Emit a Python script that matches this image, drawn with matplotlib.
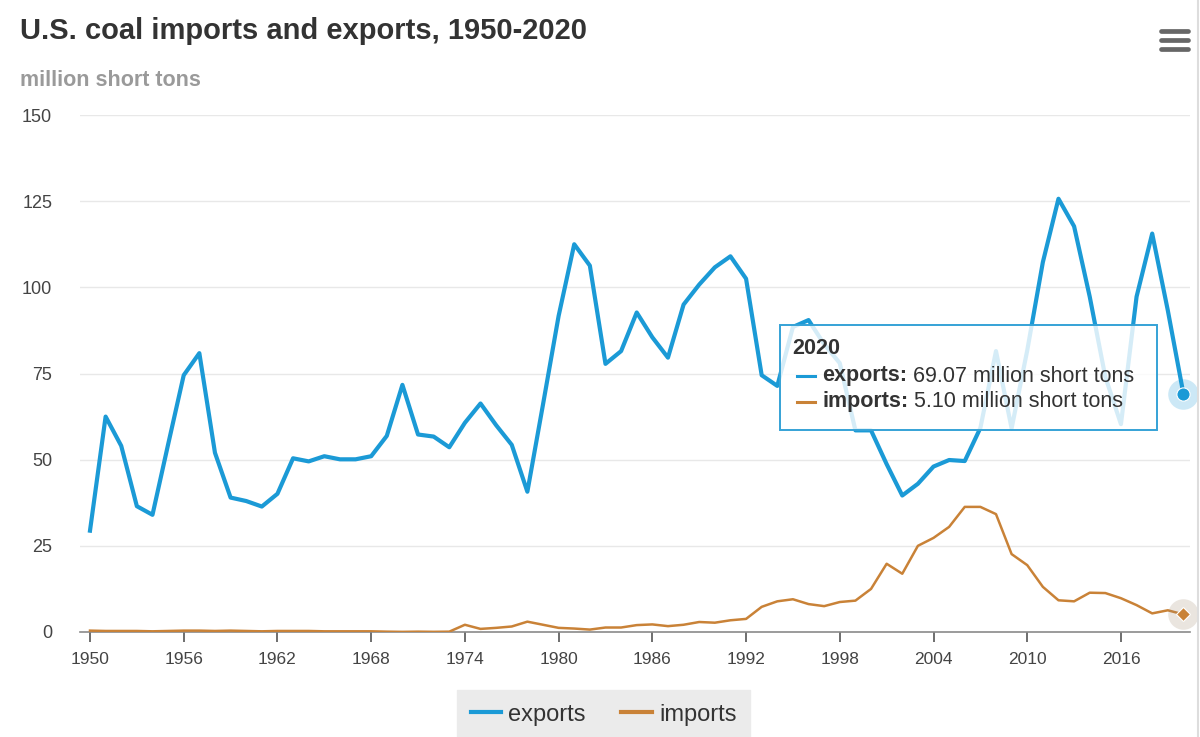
import matplotlib
matplotlib.use("Agg")
import matplotlib.pyplot as plt
from matplotlib.lines import Line2D
from matplotlib.patches import Rectangle

years = list(range(1950, 2021))
exports = [29.4, 62.5, 54.0, 36.5, 34.0, 54.4, 74.5, 80.9, 52.0, 39.0,
           38.0, 36.4, 40.1, 50.4, 49.5, 51.0, 50.1, 50.1, 51.0, 56.9,
           71.7, 57.3, 56.7, 53.6, 60.7, 66.3, 60.0, 54.3, 40.7, 66.0,
           91.7, 112.5, 106.3, 77.8, 81.5, 92.7, 85.5, 79.6, 95.0, 100.8,
           105.8, 109.0, 102.5, 74.5, 71.4, 88.5, 90.5, 83.5, 78.0, 58.5,
           58.5, 48.7, 39.6, 43.0, 48.0, 49.9, 49.6, 59.2, 81.5, 59.1,
           81.7, 107.3, 125.7, 117.7, 97.3, 74.0, 60.3, 97.3, 115.6, 93.3,
           69.07]
imports = [0.4, 0.3, 0.3, 0.3, 0.2, 0.3, 0.4, 0.4, 0.3, 0.4,
           0.3, 0.2, 0.3, 0.3, 0.3, 0.2, 0.2, 0.2, 0.2, 0.1,
           0.04, 0.1, 0.05, 0.1, 2.1, 0.9, 1.2, 1.6, 3.0, 2.1,
           1.2, 1.0, 0.7, 1.3, 1.3, 2.0, 2.2, 1.7, 2.1, 2.9,
           2.7, 3.4, 3.8, 7.3, 8.9, 9.5, 8.1, 7.5, 8.7, 9.1,
           12.5, 19.8, 16.9, 25.0, 27.3, 30.5, 36.3, 36.3, 34.2, 22.6,
           19.4, 13.1, 9.2, 8.9, 11.4, 11.3, 9.8, 7.8, 5.4, 6.3,
           5.10]
xticks = list(range(1950, 2020, 6))
yticks = [0, 25, 50, 75, 100, 125, 150]

BLUE = "#1b9ad6"
BROWN = "#c98237"
W, H = 1200, 737

plt.rcParams['font.family'] = ['Liberation Sans', 'DejaVu Sans']

fig = plt.figure(figsize=(12, 7.37), dpi=100)
fig.patch.set_facecolor("white")

def fx(px):
    return px / W

def fy(py):
    return 1 - py / H

ax = fig.add_axes([fx(80), fy(632), fx(1190) - fx(80), fy(115) - fy(632)])
ax.set_xlim(1949.36, 2020.42)
ax.set_ylim(0, 150)

for s in ["top", "right", "left"]:
    ax.spines[s].set_visible(False)
ax.spines["bottom"].set_color("#8a8a8a")
ax.spines["bottom"].set_linewidth(1.2)

ax.set_yticks(yticks)
ax.set_yticklabels([str(v) for v in yticks])
ax.tick_params(axis="y", length=0, pad=20, labelsize=13, labelcolor="#444444")
ax.set_xticks(xticks)
ax.set_xticklabels([str(v) for v in xticks])
ax.tick_params(axis="x", length=7.5, width=1.2, color="#555555", pad=7,
               labelsize=12.5, labelcolor="#444444", direction="out")

for v in yticks[1:]:
    ax.axhline(v, color="#e8e8e8", lw=1.0, zorder=0)

ax.plot(years, imports, color=BROWN, lw=1.8, zorder=3, solid_joinstyle="round")
ax.plot(years, exports, color=BLUE, lw=3.0, zorder=4, solid_joinstyle="round")

# hover halos and markers on the last point
ax.plot(years[-1], exports[-1], "o", ms=22, color=BLUE, alpha=0.22, mec="none", zorder=5, clip_on=False)
ax.plot(years[-1], exports[-1], "o", ms=9.5, color=BLUE, mec="white", mew=0.8, zorder=6, clip_on=False)
ax.plot(years[-1], imports[-1], "o", ms=22, color="#a08a70", alpha=0.22, mec="none", zorder=5, clip_on=False)
ax.plot(years[-1], imports[-1], "D", ms=7, color=BROWN, mec="white", mew=0.8, zorder=6, clip_on=False)

# title and subtitle
fig.text(fx(20), fy(31), "U.S. coal imports and exports, 1950-2020", fontsize=21,
         fontweight="bold", color="#333333", va="center", ha="left")
fig.text(fx(20), fy(80), "million short tons", fontsize=15.5, fontweight="bold",
         color="#9a9a9a", va="center", ha="left")

# menu icon
for yy in [30.5, 39.5, 48.5]:
    fig.add_artist(Line2D([fx(1161), fx(1188)], [fy(yy), fy(yy)], color="#666666",
                          lw=3.4, solid_capstyle="round"))

# right border
fig.add_artist(Line2D([fx(1197.5), fx(1197.5)], [0, 1], color="#dddddd", lw=1.5))

# legend
leg_handles = [Line2D([0], [0], color=BLUE, lw=3), Line2D([0], [0], color=BROWN, lw=3)]
leg = fig.legend(leg_handles, ["exports", "imports"], loc="upper left",
                 bbox_to_anchor=(fx(457), fy(690)), ncol=2, fontsize=17,
                 frameon=True, fancybox=False, facecolor="#ebebeb", edgecolor="#ebebeb",
                 framealpha=1, handlelength=1.3, handletextpad=0.3,
                 columnspacing=1.5, borderpad=0.58, borderaxespad=0,
                 labelcolor="#333333")

# tooltip
fig.add_artist(Rectangle((fx(780), fy(430)), fx(1157) - fx(780), fy(325) - fy(430),
                         transform=fig.transFigure, facecolor="white", alpha=0.82,
                         edgecolor="none", zorder=10))
fig.add_artist(Rectangle((fx(780), fy(430)), fx(1157) - fx(780), fy(325) - fy(430),
                         transform=fig.transFigure, facecolor="none",
                         edgecolor="#35a2d6", lw=1.4, zorder=11))
fig.text(fx(792), fy(349), "2020", fontsize=15.5, fontweight="bold", color="#333333",
         va="center", ha="left", zorder=12)
renderer = fig.canvas.get_renderer()
rows = [(376, BLUE, "exports:", " %.2f million short tons" % exports[-1]),
        (402, BROWN, "imports:", " %.2f million short tons" % imports[-1])]
for yy, col, lab, rest in rows:
    fig.add_artist(Line2D([fx(797), fx(815)], [fy(yy), fy(yy)], color=col, lw=2.2, zorder=12))
    t = fig.text(fx(822), fy(yy), lab, fontsize=15.5, fontweight="bold", color="#333333",
                 va="center", ha="left", zorder=12)
    bb = t.get_window_extent(renderer=renderer)
    fig.text(bb.x1 / W, fy(yy), rest, fontsize=15.5, color="#333333",
             va="center", ha="left", zorder=12)

fig.savefig("out.png", dpi=100, facecolor="white")
